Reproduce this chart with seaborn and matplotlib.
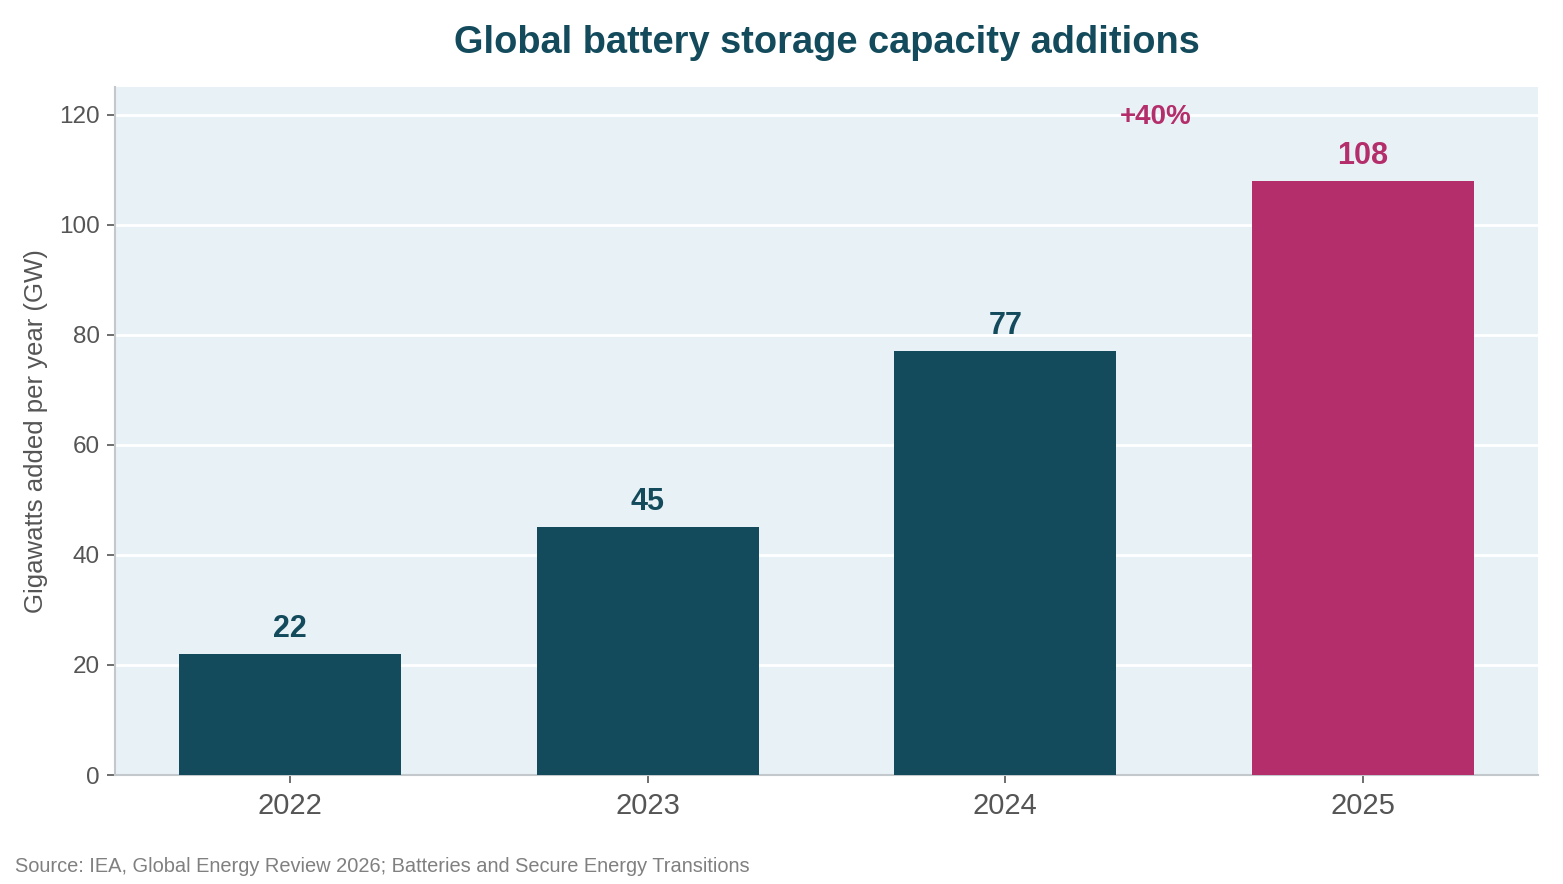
import matplotlib
matplotlib.use("Agg")
import matplotlib.pyplot as plt
import seaborn as sns
import pandas as pd

years = ["2022", "2023", "2024", "2025"]
capacity_gw = [22, 45, 77, 108]
bar_colors = ["#134B5C", "#134B5C", "#134B5C", "#B32E6B"]
growth_label = "+40%"
title = "Global battery storage capacity additions"
ylabel = "Gigawatts added per year (GW)"
source = "Source: IEA, Global Energy Review 2026; Batteries and Secure Energy Transitions"

sns.set_theme(style="white")
plt.rcParams["font.family"] = ["Liberation Sans", "DejaVu Sans"]

df = pd.DataFrame({"year": years, "gw": capacity_gw})

fig = plt.figure(figsize=(15.63, 8.84), dpi=100)
ax = fig.add_axes([0.0736, 0.1233, 0.9104, 0.7783])
ax.set_facecolor("#E8F1F6")

sns.barplot(data=df, x="year", y="gw", hue="year", palette=bar_colors,
            width=0.62, legend=False, ax=ax, saturation=1, zorder=3,
            linewidth=0, edgecolor="none")

ax.set_ylim(0, 125)
ax.set_xlim(-0.49, 3.49)
ax.set_yticks([0, 20, 40, 60, 80, 100, 120])
ax.grid(axis="y", color="white", linewidth=2, zorder=1)
ax.set_axisbelow(True)

for s in ["top", "right"]:
    ax.spines[s].set_visible(False)
for s in ["left", "bottom"]:
    ax.spines[s].set_color("#C3C8CC")
    ax.spines[s].set_linewidth(1.5)

ax.tick_params(axis="y", left=True, labelsize=17.5, labelcolor="#555555",
               color="#555555", length=6, width=1.2, pad=5)
ax.tick_params(axis="x", bottom=True, labelsize=21, labelcolor="#555555",
               color="#555555", length=6, width=1.2, pad=6)
ax.set_xlabel("")
ax.set_ylabel(ylabel, fontsize=18.5, color="#555555", labelpad=8)

for i, v in enumerate(capacity_gw):
    ax.text(i, v + 1.8, str(v), ha="center", va="bottom", fontsize=22,
            fontweight="bold", color=bar_colors[i], zorder=5)

ax.text(2.42, 119.6, growth_label, ha="center", va="center", fontsize=20,
        fontweight="bold", color="#B32E6B", zorder=5)

fig.text(0.529, 0.951, title, ha="center", va="center", fontsize=27.4,
         fontweight="bold", color="#134B5C")
fig.text(0.0096, 0.02, source, ha="left", va="center", fontsize=14.4, color="#808080")

fig.savefig("out.png", dpi=100)
